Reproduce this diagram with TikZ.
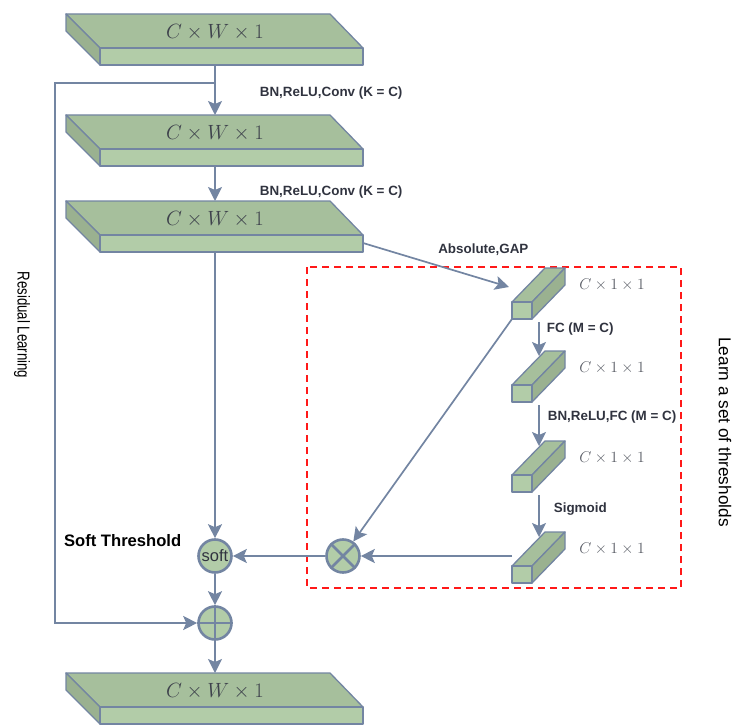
\RequirePackage{fix-cm}
\documentclass[tikz,border=0pt]{standalone}
\usepackage[no-math]{fontspec}
\setmainfont{Liberation Sans}
\usepackage{tikz}
\usetikzlibrary{positioning,arrows.meta,calc}

\definecolor{edge}{HTML}{7385A2}
\definecolor{topgreen}{HTML}{A6BF9C}
\definecolor{frontgreen}{HTML}{B2CCA8}
\definecolor{sidegreen}{HTML}{9AB190}
\definecolor{labelgray}{HTML}{30333F}
\definecolor{mathgray}{HTML}{3E424C}

\begin{document}
\begin{tikzpicture}[x=1pt, y=-1pt,
    face/.style={draw=edge, line width=1.3pt, line join=round},
    bigdim/.style={font=\fontsize{20.6}{24}\selectfont, text=mathgray},
    smalldim/.style={font=\fontsize{15.6}{18}\selectfont, text=mathgray!85, anchor=center},
    lbl/.style={font=\fontsize{13.4}{16}\selectfont\bfseries, text=labelgray, inner sep=0pt},
    sidetext/.style={text=black, inner sep=0pt, rotate=-90},
    op/.style={circle, draw=edge, line width=2.6pt, fill=frontgreen, minimum size=33pt, inner sep=0pt},
    arrow/.style={draw=edge, line width=1.7pt, -{Stealth[length=14pt, width=14pt, inset=3pt]}},
    learnbox/.style={draw=red!90!white, line width=1.8pt, dash pattern=on 7pt off 5pt},
    slab/.pic={
        \filldraw[face, fill=topgreen] (66,0) -- (330,0) -- (363,34) -- (100,34) -- cycle;
        \filldraw[face, fill=sidegreen] (66,0) -- (100,34) -- (100,51) -- (66,17) -- cycle;
        \filldraw[face, fill=frontgreen] (100,34) rectangle (363,51);
        \node[bigdim] (-lbl) at (215,18) {$C\times W\times 1$};
        \coordinate (-top) at (215,0);
        \coordinate (-bot) at (215,51);
        \coordinate (-right) at (363,42);
    },
    cube/.pic={
        \filldraw[face, fill=topgreen] (0,-17) -- (33,-51) -- (53,-51) -- (20,-17) -- cycle;
        \filldraw[face, fill=sidegreen] (20,-17) -- (53,-51) -- (53,-34) -- (20,0) -- cycle;
        \filldraw[face, fill=frontgreen] (0,-17) rectangle (20,0);
        \node[smalldim] (-lbl) at (100,-34) {$C\times 1\times 1$};
        \coordinate (-sw) at (0,0);
        \coordinate (-gap) at (-3,-32);
        \coordinate (-in) at (27,-46);
        \coordinate (-out) at (27,3);
    }
]
\useasboundingbox (0,0) rectangle (732,725);

% Feature maps
\pic (s1) at (0,14) {slab};
\pic (s2) at (0,115) {slab};
\pic (s3) at (0,201) {slab};
\pic (s4) at (0,673) {slab};

% Threshold sub-network
\draw[learnbox] (307,267) rectangle (681,588);
\pic (b1) at (512,319) {cube};
\pic (b2) at (512,402) {cube};
\pic (b3) at (512,492) {cube};
\pic (b4) at (512,583) {cube};

% Operators
\node[op, font=\fontsize{16.5}{18}\selectfont, text=labelgray] (soft) at (215,556) {soft};
\node[op] (plus) at (215,623) {};
\node[op] (mul) at (343,556) {};
\draw[edge, line width=2.6pt] (plus.north) -- (plus.south) (plus.west) -- (plus.east);
\draw[edge, line width=2.6pt] (mul.north west) -- (mul.south east) (mul.north east) -- (mul.south west);

% Main path
\coordinate (split) at ($(s1-bot)!0.36!(s2-top)$);
\coordinate (rcorner) at (55,83);
\draw[arrow] (s1-bot) -- node[lbl, anchor=west, pos=0.56, xshift=44pt] {BN,ReLU,Conv (K = C)} (s2-top);
\draw[arrow] (s2-bot) -- node[lbl, anchor=west, pos=0.74, xshift=44pt] {BN,ReLU,Conv (K = C)} (s3-top);
\draw[arrow] (s3-bot) -- (soft);
\draw[arrow] (split) -- (rcorner) |- (plus);
\draw[arrow] (soft) -- (plus);
\draw[arrow] (plus) -- (s4-top);

% Threshold branch
\draw[arrow] (s3-right) -- node[lbl, anchor=west, pos=0.51, yshift=16pt] {Absolute,GAP} (b1-gap);
\draw[arrow] (b1-out) -- node[lbl, anchor=west, pos=0.2, xshift=7pt] {FC (M = C)} (b2-in);
\draw[arrow] (b2-out) -- node[lbl, anchor=west, pos=0.3, xshift=8pt] {BN,ReLU,FC (M = C)} (b3-in);
\draw[arrow] (b3-out) -- node[lbl, anchor=west, pos=0.33, xshift=14pt] {Sigmoid} (b4-in);
\draw[arrow] (b1-sw) -- (mul);
\draw[arrow] (b4-sw |- mul) -- (mul);
\draw[arrow] (mul) -- (soft);

% Side labels
\node[lbl, text=black, font=\fontsize{16.6}{18}\selectfont\bfseries, above left=-3pt and 21pt of soft] (st) {Soft Threshold};
\node[sidetext, xscale=0.77, font=\fontsize{17.2}{19}\selectfont] (res) at (22,325) {Residual Learning};
\node[sidetext, font=\fontsize{17.2}{19}\selectfont] (learn) at (725,432) {Learn a set of thresholds};

\end{tikzpicture}
\end{document}
